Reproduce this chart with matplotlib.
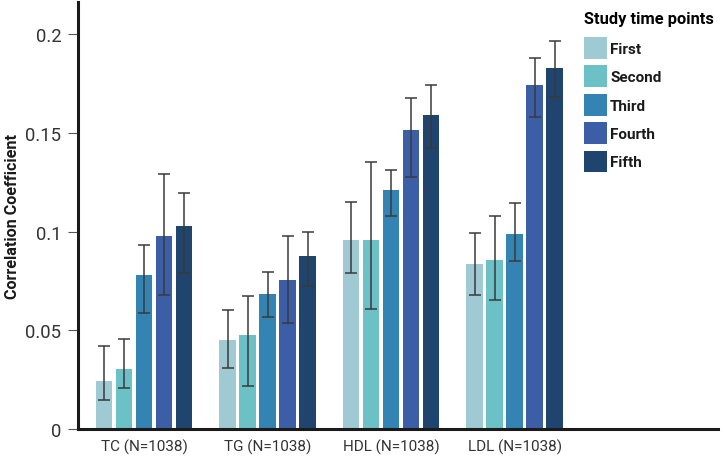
import numpy as np
import matplotlib
matplotlib.use("Agg")
import matplotlib.pyplot as plt

plt.rcParams["font.family"] = ["Roboto", "DejaVu Sans"]

groups = ["TC (N=1038)", "TG (N=1038)", "HDL (N=1038)", "LDL (N=1038)"]
series = ["First", "Second", "Third", "Fourth", "Fifth"]
colors = ["#9fc9d3", "#6bc1c6", "#3383b3", "#3b5ea7", "#1f456e"]

# correlation per group (rows = time point, cols = TC, TG, HDL, LDL)
vals = np.array([
    [0.0241, 0.0450, 0.0957, 0.0837],
    [0.0306, 0.0474, 0.0957, 0.0854],
    [0.0781, 0.0684, 0.1212, 0.0990],
    [0.0980, 0.0756, 0.1515, 0.1742],
    [0.1029, 0.0878, 0.1593, 0.1827],
])
err_hi = np.array([
    [0.0421, 0.0603, 0.1149, 0.0993],
    [0.0455, 0.0676, 0.1350, 0.1077],
    [0.0934, 0.0793, 0.1312, 0.1143],
    [0.1294, 0.0978, 0.1679, 0.1881],
    [0.1197, 0.0998, 0.1744, 0.1964],
])
err_lo = np.array([
    [0.0145, 0.0311, 0.0788, 0.0679],
    [0.0209, 0.0217, 0.0606, 0.0654],
    [0.0588, 0.0569, 0.1080, 0.0849],
    [0.0679, 0.0535, 0.1277, 0.1581],
    [0.0789, 0.0725, 0.1423, 0.1684],
])

fig = plt.figure(figsize=(7.24, 4.6), dpi=100)
ax = fig.add_axes([0.1077, 0.0652, 0.884, 0.9283])

x = np.arange(len(groups))
pitch, width = 0.162, 0.134
for i, (name, c) in enumerate(zip(series, colors)):
    xs = x + (i - 2) * pitch
    ax.bar(xs, vals[i], width, color=c, label=name, zorder=2)
    yerr = [vals[i] - err_lo[i], err_hi[i] - vals[i]]
    ax.errorbar(xs, vals[i], yerr=yerr, fmt="none", ecolor="#3a3a3a",
                elinewidth=1.1, capsize=4.3, capthick=1.1, zorder=3)

ax.set_xlim(-0.535, 4.645)
ax.set_ylim(0, 0.2163)
ax.set_yticks([0, 0.05, 0.1, 0.15, 0.2])
ax.set_yticklabels(["0", "0.05", "0.1", "0.15", "0.2"])
ax.set_xticks(x)
ax.set_xticklabels(groups)
ax.tick_params(axis="x", length=0, pad=7, labelsize=11, labelcolor="#333333")
ax.tick_params(axis="y", length=7, width=0.8, color="#555555", pad=5,
               labelsize=13.3, labelcolor="#333333")
for s in ["top", "right"]:
    ax.spines[s].set_visible(False)
for s in ["left", "bottom"]:
    ax.spines[s].set_linewidth(2.2)
    ax.spines[s].set_color("#1a1a1a")

ax.set_ylabel("Correlation Coefficient", fontsize=11.6, fontweight="bold",
              color="#1a1a1a")
ax.yaxis.set_label_coords(-0.091, 0.5)

leg = ax.legend(title="Study time points", loc="upper left",
                bbox_to_anchor=(0.791, 0.979), frameon=False,
                prop={"weight": "bold", "size": 11},
                handlelength=1.5, handleheight=1.82, labelspacing=0.43,
                handletextpad=0.2, borderaxespad=0, borderpad=0)
leg.get_title().set_fontweight("bold")
leg.get_title().set_fontsize(11.8)
leg._legend_box.align = "left"
leg._legend_box.sep = 8
for t in leg.get_texts():
    t.set_color("#1a1a1a")

fig.savefig("out.png", dpi=100)
